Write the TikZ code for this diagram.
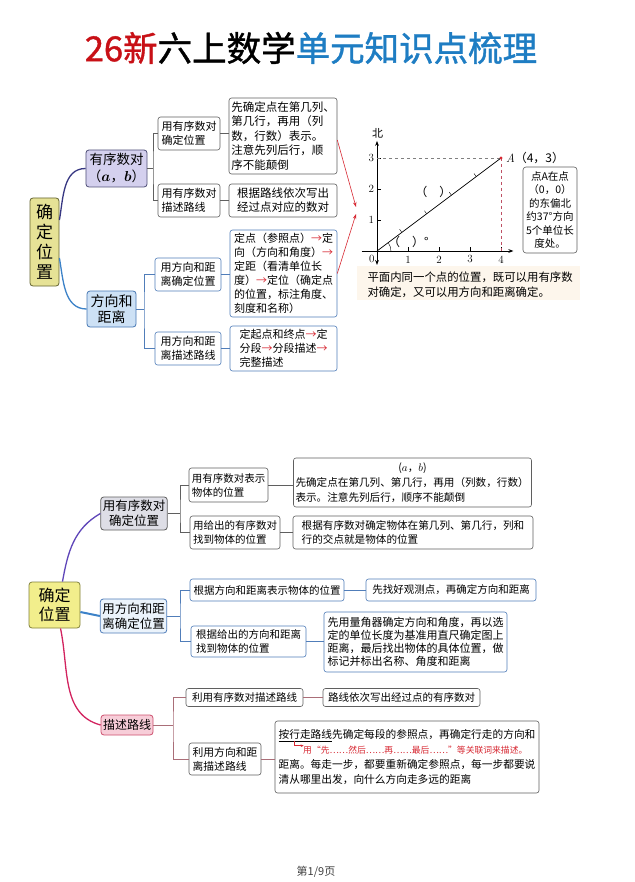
\documentclass[tikz,border=0pt]{standalone}
\usepackage{fontspec}
\newfontfamily\cjk{Noto Sans CJK SC}
\newfontfamily\cjkheavy[FakeBold=1.2]{Noto Sans CJK SC}
\usetikzlibrary{arrows.meta}
\definecolor{titlered}{RGB}{200,16,22}
\definecolor{titleblue}{RGB}{30,125,195}
\definecolor{rootfill}{RGB}{230,226,150}
\definecolor{rootline}{RGB}{100,100,50}
\definecolor{lavfill}{RGB}{212,208,238}
\definecolor{lavline}{RGB}{80,80,120}
\definecolor{skyfill}{RGB}{205,225,245}
\definecolor{skyline}{RGB}{70,120,180}
\definecolor{grayline}{RGB}{95,95,95}
\definecolor{blueline}{RGB}{80,125,185}
\definecolor{navy}{RGB}{55,55,130}
\definecolor{midblue}{RGB}{60,130,200}
\definecolor{arrowred}{RGB}{215,40,50}
\definecolor{dashred}{RGB}{190,80,100}
\definecolor{paper}{RGB}{253,246,236}
\definecolor{yelfill}{RGB}{242,238,140}
\definecolor{yelline}{RGB}{130,130,60}
\definecolor{grayfill}{RGB}{222,222,230}
\definecolor{palefill}{RGB}{235,243,251}
\definecolor{pinkfill}{RGB}{247,205,216}
\definecolor{pinkline}{RGB}{205,80,110}
\definecolor{purple2}{RGB}{95,70,185}
\definecolor{crimson}{RGB}{210,35,95}
\definecolor{rosebrown}{RGB}{170,110,120}
\newcommand{\fsz}[2]{\fontsize{#1}{#2}\selectfont}
\newcommand{\redto}{{\color{arrowred}→}}
\begin{document}
\begin{tikzpicture}[x=1pt,y=-1pt,
	box/.style={draw=#1,fill=white,rounded corners=2.5pt,line width=0.6pt,inner sep=2pt,align=left},
	main/.style={draw=#1,rounded corners=3pt,line width=0.8pt,inner sep=2pt,align=center},
	link/.style={draw=#1,line width=0.6pt},
	branch/.style={draw=#1,line width=1.3pt}]
	\useasboundingbox (0,0) rectangle (634,882);
	\fill[white] (0,0) rectangle (634,882);
	\node[font=\cjkheavy\fsz{34.5}{36}] (title) at (311,48) {{\color{titlered}26新}六上数学{\color{titleblue}单元知识点梳理}};

	\node[main=rootline,fill=rootfill,minimum width=29pt,minimum height=88pt,font=\cjk\fsz{17}{20}] (pos) at (44.5,242) {确\\定\\位\\置};
	\node[main=lavline,fill=lavfill,minimum width=59pt,minimum height=37pt,font=\cjk\fsz{13.5}{17}] (pair) at (116.5,168.5) {有序数对\\（{\boldmath$a$}，{\boldmath$b$}）};
	\node[main=skyline,fill=skyfill,minimum width=49pt,minimum height=36pt,font=\cjk\fsz{14}{16}] (dir) at (111.5,309) {方向和\\距离};

	\node[box=grayline,minimum width=62pt,minimum height=33pt,font=\cjk\fsz{11}{14}] (pairfix) at (189,133.5) {用有序数对\\确定位置};
	\node[box=grayline,minimum width=62pt,minimum height=33pt,font=\cjk\fsz{11}{14}] (pairroute) at (189,200.5) {用有序数对\\描述路线};
	\node[box=grayline,minimum width=108pt,minimum height=76pt,font=\cjk\fsz{11.5}{14.5}] (pairfixtxt) at (283,136) {先确定点在第几列、\\第几行，再用（列\\数，行数）表示。\\注意先列后行，顺\\序不能颠倒};
	\node[box=grayline,minimum width=108pt,minimum height=33pt,font=\cjk\fsz{11.5}{14}] (pairroutetxt) at (283,200.5) {根据路线依次写出\\经过点对应的数对};
	\node[box=blueline,minimum width=66pt,minimum height=33pt,font=\cjk\fsz{11}{14}] (dirfix) at (188,274.5) {用方向和距\\离确定位置};
	\node[box=blueline,minimum width=66pt,minimum height=33pt,font=\cjk\fsz{11}{14}] (dirroute) at (188,348.5) {用方向和距\\离描述路线};
	\node[box=blueline,minimum width=107pt,minimum height=87pt,font=\cjk\fsz{11}{14}] (dirfixtxt) at (283.5,273.5) {定点（参照点）\redto 定\\向（方向和角度）\redto\\定距（看清单位长\\度）\redto 定位（确定点\\的位置，标注角度、\\刻度和名称）};
	\node[box=blueline,minimum width=107pt,minimum height=45pt,font=\cjk\fsz{11}{14}] (dirroutetxt) at (283.5,348.5) {定起点和终点\redto 定\\分段\redto 分段描述\redto\\完整描述};

	\draw[branch=navy] ([yshift=22pt]pos.east) to[out=80,in=180] (pair.west);
	\draw[branch=midblue] ([yshift=-16pt]pos.east) to[out=-80,in=180] (dir.west);
	\coordinate (pairjoin) at (153,168.5);
	\draw[link=grayline] (pair.east) -- (pairjoin);
	\draw[link=grayline] (pairfix.west) -| (pairjoin) |- (pairroute.west);
	\draw[link=grayline] (pairfix.east) -- (pairfix.east -| pairfixtxt.west);
	\draw[link=grayline] (pairroute) -- (pairroutetxt);
	\coordinate (dirjoin) at (144,309);
	\draw[link=blueline] (dir.east) -- (dirjoin);
	\draw[link=blueline] (dirfix.west) -| (dirjoin) |- (dirroute.west);
	\draw[link=blueline] (dirfix.east) -- (dirfix.east -| dirfixtxt.west);
	\draw[link=blueline] (dirroute) -- (dirroutetxt);

	\coordinate (tipA) at (356,207);
	\coordinate (tipB) at (356,214);
	\draw[arrowred,line width=0.6pt,-{Stealth[length=5pt,width=3.5pt]}] ([yshift=-4pt]pairfixtxt.east) -- (tipA);
	\draw[arrowred,line width=0.6pt,-{Stealth[length=5pt,width=3.5pt]}] (dirfixtxt.east) -- (tipB);

	\fill[paper] (357,266) rectangle (580,300);
	\begin{scope}[shift={(377,251)},x=31pt,y=31pt]
		\draw[line width=0.7pt,-{Stealth[length=5pt]}] (-0.5,0) -- (4.4,0);
		\draw[line width=0.7pt,{Stealth[length=5pt]}-{Stealth[length=5pt]}] (0,-0.45) -- (0,3.55);
		\foreach \i in {1,...,4} {
			\draw (\i,0) -- (\i,0.12);
			\node[font=\fsz{11}{11}] (xl\i) at (\i,-0.27) {\i};
		}
		\foreach \i in {1,2,3} {
			\draw (0,\i) -- (0.12,\i);
			\node[font=\fsz{11}{11}] (yl\i) at (-0.18,\i) {\i};
		}
		\node[font=\fsz{11}{11}] (zero) at (-0.17,-0.25) {0};
		\node[font=\cjk\fsz{11}{11}] (north) at (0.02,3.78) {北};
		\draw[dashed,gray] (0,3) -- (4,3);
		\draw[dashed,dashred] (4,3) -- (4,0);
		\draw[line width=0.7pt] (0,0) -- (4,3);
		\foreach \t in {1,...,4}
			\draw (0.8*\t,0.6*\t) -- ++(-0.07,0.1);
		\draw (0.45,0) arc[start angle=0,end angle=36.87,radius=0.45];
		\fill[arrowred] (4,3) circle (1.6pt);
		\node[anchor=west,font=\fsz{12}{12}] (ptA) at (4.05,3) {\textit{A}{\cjk（4，3）}};
		\node[font=\cjk\fsz{12}{12}] (blankd) at (1.82,1.91) {（\quad）};
		\node[font=\cjk\fsz{12}{12}] (blanka) at (1.01,0.3) {（\quad）°};
	\end{scope}
	\node[box=grayline,rounded corners=3pt,align=center,minimum width=54pt,minimum height=86pt,font=\cjk\fsz{10.5}{13.5}] (note) at (550,210) {点\textit{A}在点\\（0，0）\\的东偏北\\约37°方向\\5个单位长\\度处。};
	\node[anchor=west,align=left,font=\cjk\fsz{11.4}{15}] (remark) at (364,284.5) {平面内同一个点的位置，既可以用有序数\\对确定，又可以用方向和距离确定。};

	\node[main=yelline,fill=yelfill,minimum width=51pt,minimum height=46pt,font=\cjk\fsz{16}{19}] (pos2) at (54.5,605) {确定\\位置};
	\node[main=grayline,fill=grayfill,minimum width=66pt,minimum height=33pt,font=\cjk\fsz{12.5}{15}] (pair2) at (134,513.5) {用有序数对\\确定位置};
	\node[main=blueline,fill=palefill,minimum width=65pt,minimum height=34pt,font=\cjk\fsz{12.5}{15}] (dir2) at (133.5,616) {用方向和距\\离确定位置};
	\node[main=pinkline,fill=pinkfill,minimum width=52pt,minimum height=20pt,font=\cjk\fsz{12}{14}] (route2) at (127,725) {描述路线};

	\node[box=grayline,minimum width=79pt,minimum height=34pt,font=\cjk\fsz{10.5}{14}] (pairshow) at (228.5,485) {用有序数对表示\\物体的位置};
	\node[box=grayline,minimum width=90pt,minimum height=33pt,font=\cjk\fsz{10.5}{14}] (pairfind) at (235,532.5) {用给出的有序数对\\找到物体的位置};
	\node[box=grayline,text width=234pt,minimum height=49pt,font=\cjk\fsz{10.6}{15}] (pairshowtxt) at (412.5,482.5) {\makebox[\linewidth]{($a$，$b$)}\\先确定点在第几列、第几行，再用（列数，行数）\\表示。注意先列后行，顺序不能颠倒};
	\node[box=grayline,minimum width=240pt,minimum height=33pt,font=\cjk\fsz{10.6}{14.5}] (pairfindtxt) at (413,532.5) {根据有序数对确定物体在第几列、第几行，列和\\行的交点就是物体的位置};
	\node[box=blueline,minimum width=154pt,minimum height=22pt,font=\cjk\fsz{10.5}{14}] (dirshow) at (267,590) {根据方向和距离表示物体的位置};
	\node[box=blueline,minimum width=170pt,minimum height=22pt,font=\cjk\fsz{10.5}{14}] (dirshowtxt) at (451,590) {先找好观测点，再确定方向和距离};
	\node[box=blueline,minimum width=115pt,minimum height=31pt,font=\cjk\fsz{10.5}{14}] (dirfind) at (248.5,641.5) {根据给出的方向和距离\\找到物体的位置};
	\node[box=blueline,minimum width=183pt,minimum height=60pt,font=\cjk\fsz{11}{13}] (dirfindtxt) at (415.5,642) {先用量角器确定方向和角度，再以选\\定的单位长度为基准用直尺确定图上\\距离，最后找出物体的具体位置，做\\标记并标出名称、角度和距离};
	\node[box=grayline,minimum width=117pt,minimum height=18pt,font=\cjk\fsz{10.5}{13}] (routepair) at (244.5,697.5) {利用有序数对描述路线};
	\node[box=grayline,minimum width=157pt,minimum height=18pt,font=\cjk\fsz{10.5}{13}] (routepairtxt) at (401.5,697.5) {路线依次写出经过点的有序数对};
	\node[box=grayline,minimum width=72pt,minimum height=32pt,font=\cjk\fsz{10.8}{14}] (routedir) at (225,759) {利用方向和距\\离描述路线};
	\node[box=grayline,minimum width=264pt,minimum height=72pt,font=\cjk\fsz{10.7}{14.7}] (routedirtxt) at (407,757) {\underline{按行走路线}先确定每段的参照点，再确定行走的方向和\\\hspace*{2.3em}{\color{arrowred}\fsz{8.8}{14.7}用“先……然后……再……最后……”等关联词来描述。}\\距离。每走一步，都要重新确定参照点，每一步都要说\\清从哪里出发，向什么方向走多远的距离};
	\draw[arrowred,line width=0.6pt,-{Stealth[length=3pt,width=2.5pt]}] ([shift={(20pt,-20pt)}]routedirtxt.north west) |- ++(9,5);

	\draw[branch=purple2] ([xshift=8pt]pos2.north) to[out=80,in=210] (pair2.west);
	\draw[branch=midblue,line width=2pt] ([yshift=-7pt]pos2.east) -- (dir2.west);
	\draw[branch=crimson] ([xshift=6pt]pos2.south) to[out=-78,in=165] (route2.west);
	\coordinate (pair2join) at (180,513.5);
	\draw[link=grayline] (pair2.east) -- (pair2join);
	\draw[link=grayline] (pairshow.west) -| (pair2join) |- (pairfind.west);
	\draw[link=grayline] (pairshow.east) -- (pairshow.east -| pairshowtxt.west);
	\draw[link=grayline] (pairfind) -- (pairfindtxt);
	\coordinate (dir2join) at (180,616);
	\draw[link=blueline] (dir2.east) -- (dir2join);
	\draw[link=blueline] (dirshow.west) -| (dir2join) |- (dirfind.west);
	\draw[link=blueline] (dirshow) -- (dirshowtxt);
	\draw[link=blueline] (dirfind.east) -- (dirfind.east -| dirfindtxt.west);
	\coordinate (route2join) at (173,725);
	\draw[link=rosebrown] (route2.east) -- (route2join);
	\draw[link=rosebrown] (routepair.west) -| (route2join) |- (routedir.west);
	\draw[link=rosebrown] (routepair) -- (routepairtxt);
	\draw[link=rosebrown] (routedir.east) -- (routedir.east -| routedirtxt.west);

	\node[font=\cjk\fsz{11}{11},text=darkgray] (page) at (316,872) {第1/9页};
\end{tikzpicture}
\end{document}
